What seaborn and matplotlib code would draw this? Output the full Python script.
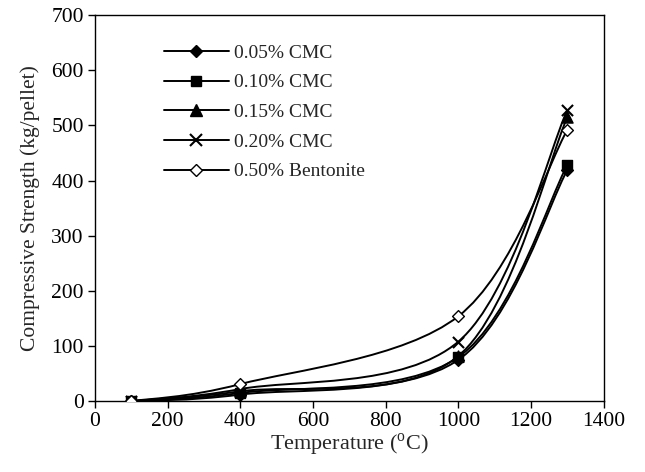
import numpy as np
import matplotlib
matplotlib.use("Agg")
import matplotlib.pyplot as plt
import seaborn as sns
from matplotlib.path import Path
from matplotlib.patches import PathPatch
from matplotlib.lines import Line2D

# Data
temperature = [100, 400, 1000, 1300]
cmc_005 = [0, 12, 75, 419]
cmc_010 = [0, 15, 80, 428]
cmc_015 = [0, 18, 82, 515]
cmc_020 = [0, 22, 108, 528]
bentonite_050 = [0, 31, 154, 492]

series_names = ["0.05% CMC", "0.10% CMC", "0.15% CMC", "0.20% CMC", "0.50% Bentonite"]
series_values = [cmc_005, cmc_010, cmc_015, cmc_020, bentonite_050]
markers = ["D", "s", "^", "x", "D"]
marker_faces = ["black", "black", "black", "black", "white"]
marker_sizes = [6, 6.5, 8, 8, 6]

sns.set_style("ticks")
plt.rcParams["font.family"] = ["Liberation Serif", "DejaVu Serif"]
plt.rcParams["mathtext.fontset"] = "custom"
plt.rcParams["mathtext.rm"] = "Liberation Serif"


def smooth_path(x, y):
    # Excel-style smoothed line: cubic Bezier segments through the points
    pts = np.column_stack([x, y]).astype(float)
    n = len(pts)
    verts = [pts[0]]
    codes = [Path.MOVETO]
    for i in range(n - 1):
        p0 = pts[max(i - 1, 0)]
        p1 = pts[i]
        p2 = pts[i + 1]
        p3 = pts[min(i + 2, n - 1)]
        c1 = p1 + (p2 - p0) / 6.0
        c2 = p2 - (p3 - p1) / 6.0
        verts += [c1, c2, p2]
        codes += [Path.CURVE4] * 3
    return Path(verts, codes)


fig, ax = plt.subplots(figsize=(6.45, 4.72), dpi=100)
fig.subplots_adjust(left=0.147, right=0.936, bottom=0.150, top=0.968)

handles = []
for name, vals, m, fc, ms in zip(series_names, series_values, markers, marker_faces, marker_sizes):
    ax.add_patch(PathPatch(smooth_path(temperature, vals), fill=False,
                           edgecolor="black", lw=1.4, zorder=2))
    sns.scatterplot(x=temperature, y=vals, marker=m, s=ms ** 2,
                    color=fc, edgecolor="black",
                    linewidth=1.5 if m == "x" else 1.0, ax=ax, zorder=3)
    handles.append(Line2D([], [], color="black", lw=1.4, marker=m, markersize=ms,
                          markerfacecolor=fc, markeredgecolor="black",
                          markeredgewidth=1.5 if m == "x" else 1.0, label=name))

ax.set_xlim(0, 1400)
ax.set_ylim(0, 700)
ax.set_xticks(np.arange(0, 1401, 200))
ax.set_yticks(np.arange(0, 701, 100))
ax.tick_params(direction="out", length=5, width=1, labelsize=15.5, colors="black", pad=3)
for s in ax.spines.values():
    s.set_visible(True)
    s.set_color("black")
    s.set_linewidth(1)

ax.set_xlabel(r"Temperature ($^{\rm o}$C)", fontsize=16, labelpad=0)
ax.set_ylabel("Compressive Strength (kg/pellet)", fontsize=15.5, labelpad=8)

ax.legend(handles=handles, loc="upper left", bbox_to_anchor=(0.12, 0.945),
          frameon=False, fontsize=14, handlelength=3.35, handletextpad=0.25,
          labelspacing=0.62, borderaxespad=0)

fig.savefig("out.png", dpi=100)
